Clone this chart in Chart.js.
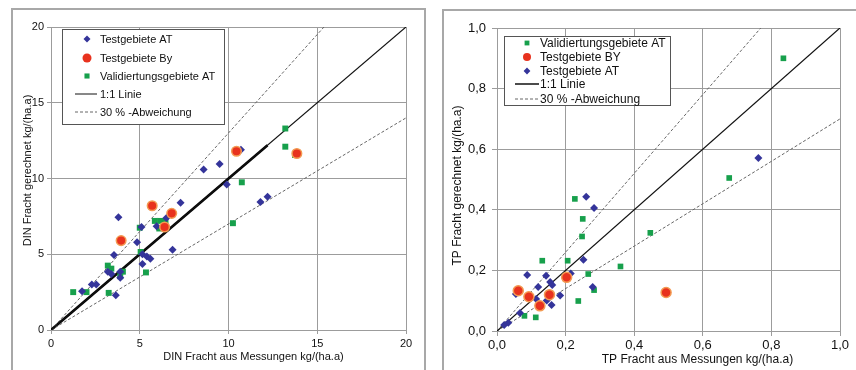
<!DOCTYPE html>
<html>
<head>
<meta charset="utf-8">
<script src="https://cdn.jsdelivr.net/npm/chart.js@4.4.1/dist/chart.umd.min.js"></script>
<style>
  body { margin: 0; background: #fff; width: 856px; height: 370px; overflow: hidden; position: relative; }
  .panel { position: absolute; border: 2px solid #a8a8a8; border-bottom: none; background: #fff; }
  #p1 { left: 11px; top: 8px; width: 411px; height: 362px; }
  #p2 { left: 442px; top: 9px; width: 414px; height: 361px; border-right: none; }
  canvas { display: block; }
</style>
</head>
<body>
<div class="panel" id="p1"><canvas id="din" width="411" height="360"></canvas></div>
<div class="panel" id="p2"><canvas id="tp" width="412" height="359"></canvas></div>
<script>
// DIN (left chart)
const dinTicks = ["0", "5", "10", "15", "20"];
const dinAtX = [9.9, 7.3, 3.8, 12.2, 11.8, 5.1, 5.95, 6.5, 4.85, 6.85, 3.55, 5.15, 5.4, 5.6, 5.15, 3.2, 3.4, 3.9, 3.9, 2.3, 2.55, 1.75, 3.65, 8.6, 9.5, 10.7];
const dinAtY = [9.6, 8.4, 7.45, 8.8, 8.45, 6.8, 6.85, 7.4, 5.8, 5.3, 4.95, 5.0, 4.85, 4.7, 4.35, 3.85, 3.7, 3.85, 3.45, 3.0, 3.0, 2.55, 2.3, 10.6, 10.95, 11.9];
const dinByX = [10.45, 13.85, 5.7, 6.8, 6.4, 3.95];
const dinByY = [11.8, 11.65, 8.2, 7.7, 6.8, 5.9];
const dinValX = [13.2, 13.2, 13.75, 10.75, 10.25, 5.85, 6.15, 6.45, 6.1, 5.0, 5.05, 3.2, 3.4, 4.05, 3.9, 5.35, 1.25, 2.0, 3.25];
const dinValY = [13.3, 12.1, 11.55, 9.75, 7.05, 7.2, 7.2, 7.2, 6.7, 6.75, 5.15, 4.25, 4.05, 3.85, 3.55, 3.8, 2.5, 2.5, 2.45];
const dinLineX = [0, 20];
const dinLine11 = [0, 20];
const dinLineLow = [0, 14];
const dinUpperX = [0, 15.38];
const dinUpperY = [0, 20];
const dinThickX = [0, 12.2];
const dinThickY = [0, 12.2];

// TP (right chart)
const tpTicks = ["0,0", "0,2", "0,4", "0,6", "0,8", "1,0"];
const tpValX = [0.835, 0.677, 0.227, 0.25, 0.248, 0.447, 0.132, 0.206, 0.36, 0.266, 0.283, 0.237, 0.08, 0.113];
const tpValY = [0.9, 0.505, 0.436, 0.37, 0.312, 0.324, 0.232, 0.232, 0.213, 0.188, 0.135, 0.099, 0.05, 0.045];
const tpByX = [0.062, 0.093, 0.125, 0.153, 0.203, 0.493];
const tpByY = [0.133, 0.113, 0.083, 0.12, 0.177, 0.127];
const tpAtX = [0.762, 0.26, 0.283, 0.252, 0.088, 0.143, 0.215, 0.12, 0.155, 0.161, 0.279, 0.184, 0.055, 0.114, 0.145, 0.159, 0.067, 0.033, 0.021];
const tpAtY = [0.571, 0.443, 0.406, 0.235, 0.185, 0.182, 0.19, 0.145, 0.162, 0.152, 0.145, 0.117, 0.122, 0.106, 0.101, 0.086, 0.059, 0.027, 0.02];
const tpLineX = [0, 1];
const tpLine11 = [0, 1];
const tpLineLow = [0, 0.7];
const tpUpperX = [0, 0.769];
const tpUpperY = [0, 1];

const FONT = "'Liberation Sans', Arial, sans-serif";
const BLUE = "#34349a";
const RED = "#e8321e";
const GREEN = "#17a04c";
const GRID = "#9c9c9c";

const pts = (xs, ys) => xs.map((x, i) => ({ x: x, y: ys[i] }));

const atSet = (label, xs, ys, r) => ({
  label, data: pts(xs, ys), pointStyle: "rectRot", pointRadius: r, pointHoverRadius: r,
  backgroundColor: BLUE, borderColor: BLUE, borderWidth: 0, order: 1,
});
const bySet = (label, xs, ys, r) => ({
  label, data: pts(xs, ys), pointStyle: "circle", pointRadius: r, pointHoverRadius: r,
  backgroundColor: RED, borderColor: "#f39a52", borderWidth: 1.5, order: 0,
});
const valSet = (label, xs, ys, r) => ({
  label, data: pts(xs, ys), pointStyle: "rect", pointRadius: r, pointHoverRadius: r,
  backgroundColor: GREEN, borderColor: GREEN, borderWidth: 0, order: 2,
});
const lineSet = (label, xs, ys, width, color, dash) => ({
  label, data: pts(xs, ys), showLine: true, pointRadius: 0, borderColor: color,
  borderWidth: width, borderDash: dash, fill: false, order: 5,
});

// legend drawn as a white box inside the plot
const boxLegend = {
  id: "boxLegend",
  afterDraw(chart, args, o) {
    const ctx = chart.ctx;
    ctx.save();
    ctx.fillStyle = "#fff";
    ctx.strokeStyle = "#555";
    ctx.lineWidth = 1;
    ctx.fillRect(o.x, o.y, o.w, o.h);
    ctx.strokeRect(o.x + 0.5, o.y + 0.5, o.w, o.h);
    ctx.font = o.size + "px " + FONT;
    ctx.textBaseline = "middle";
    o.items.forEach((it, i) => {
      const ds = chart.data.datasets[it.ds];
      const y = o.rows[i];
      if (ds.showLine) {
        ctx.strokeStyle = ds.borderColor;
        ctx.lineWidth = it.lw || 1;
        ctx.setLineDash(ds.borderDash || []);
        ctx.beginPath();
        ctx.moveTo(o.lineFrom, y);
        ctx.lineTo(o.lineTo, y);
        ctx.stroke();
        ctx.setLineDash([]);
      } else {
        ctx.fillStyle = ds.backgroundColor;
        ctx.strokeStyle = ds.borderColor;
        Chart.helpers.drawPoint(ctx, { pointStyle: ds.pointStyle, radius: it.r, rotation: 0, borderWidth: 0 }, o.mx, y);
      }
      ctx.fillStyle = "#111";
      ctx.fillText(ds.label, o.tx, y + 0.5);
    });
    ctx.restore();
  },
};

// axis titles, placed relative to the chart area
const axisTitles = {
  id: "axisTitles",
  afterDraw(chart, args, o) {
    const ctx = chart.ctx;
    const a = chart.chartArea;
    ctx.save();
    ctx.fillStyle = "#111";
    ctx.font = o.size + "px " + FONT;
    ctx.textAlign = "center";
    ctx.textBaseline = "middle";
    ctx.fillText(o.x, (a.left + a.right) / 2 + o.dx, a.bottom + o.dy);
    ctx.translate(o.yx, (a.top + a.bottom) / 2 + o.dyy);
    ctx.rotate(-Math.PI / 2);
    ctx.fillText(o.y, 0, 0);
    ctx.restore();
  },
};

const scale = (min, max, step, labels, size, tickLen, pad, fit) => ({
  type: "linear", min, max,
  ticks: { stepSize: step, color: "#111", font: { family: FONT, size }, padding: pad,
    callback: (v, i) => labels[i] },
  grid: { color: GRID, tickColor: GRID, tickLength: tickLen, lineWidth: 1 },
  border: { color: GRID, width: 1 },
  afterFit: fit,
});

new Chart(document.getElementById("din"), {
  type: "scatter",
  data: {
    datasets: [
      atSet("Testgebiete AT", dinAtX, dinAtY, 4),
      bySet("Testgebiete By", dinByX, dinByY, 4.8),
      valSet("Validiertungsgebiete AT", dinValX, dinValY, 4.2),
      lineSet("1:1 Linie", dinLineX, dinLine11, 1.2, "#111", []),
      lineSet("30 % -Abweichung", dinLineX, dinLineLow, 1, "#666", [3, 2]),
      lineSet("", dinUpperX, dinUpperY, 1, "#666", [3, 2]),
      lineSet("", dinThickX, dinThickY, 2.6, "#000", []),
    ],
  },
  options: {
    responsive: false,
    animation: false,
    layout: { padding: { top: 17, right: 18, left: 0, bottom: 0 } },
    scales: {
      x: scale(0, 20, 5, dinTicks, 11, 4, 3, (s) => { s.height = 40; }),
      y: scale(0, 20, 5, dinTicks, 11, 4, 3, (s) => { s.width = 38; }),
    },
    plugins: {
      legend: { display: false },
      tooltip: { enabled: false },
      boxLegend: {
        x: 49, y: 19, w: 162, h: 95, size: 11, mx: 74, tx: 87, lineFrom: 62, lineTo: 84,
        rows: [29, 48, 66, 84, 102],
        items: [{ ds: 0, r: 3.5 }, { ds: 1, r: 4.5 }, { ds: 2, r: 3.6 }, { ds: 3 }, { ds: 4 }],
      },
      axisTitles: {
        x: "DIN Fracht aus Messungen kg/(ha.a)", y: "DIN Fracht gerechnet kg/(ha.a)",
        size: 11, dx: 25, dy: 27, yx: 15, dyy: -8,
      },
    },
  },
  plugins: [boxLegend, axisTitles],
});

new Chart(document.getElementById("tp"), {
  type: "scatter",
  data: {
    datasets: [
      valSet("Validiertungsgebiete AT", tpValX, tpValY, 4),
      bySet("Testgebiete BY", tpByX, tpByY, 5),
      atSet("Testgebiete AT", tpAtX, tpAtY, 4),
      lineSet("1:1 Linie", tpLineX, tpLine11, 1.3, "#111", []),
      lineSet("30 % -Abweichung", tpLineX, tpLineLow, 1, "#666", [3, 2]),
      lineSet("", tpUpperX, tpUpperY, 1, "#666", [3, 2]),
    ],
  },
  options: {
    responsive: false,
    animation: false,
    layout: { padding: { top: 17, right: 16, left: 0, bottom: 0 } },
    scales: {
      x: scale(0, 1, 0.2, tpTicks, 13, 5, 2, (s) => { s.height = 39; }),
      y: scale(0, 1, 0.2, tpTicks, 13, 5, 6, (s) => { s.width = 53; }),
    },
    plugins: {
      legend: { display: false },
      tooltip: { enabled: false },
      boxLegend: {
        x: 60, y: 25, w: 166, h: 69, size: 12, mx: 83, tx: 96, lineFrom: 71, lineTo: 95,
        rows: [32, 46, 60, 73, 88],
        items: [{ ds: 0, r: 3.4 }, { ds: 1, r: 4 }, { ds: 2, r: 3.4 }, { ds: 3, lw: 1.5 }, { ds: 4 }],
      },
      axisTitles: {
        x: "TP Fracht aus Messungen kg/(ha.a)", y: "TP Fracht gerechnet kg/(ha.a)",
        size: 12, dx: 29, dy: 29, yx: 14, dyy: 6,
      },
    },
  },
  plugins: [boxLegend, axisTitles],
});
</script>
</body>
</html>
